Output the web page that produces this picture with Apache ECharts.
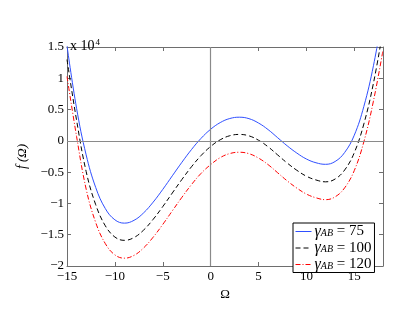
<!DOCTYPE html>
<html><head><meta charset="utf-8">
<script src="https://cdn.jsdelivr.net/npm/echarts@6/dist/echarts.min.js"></script>
<style>html,body{margin:0;padding:0;background:#fff}#c{width:415px;height:313px}</style>
</head><body><div id="c"></div>
<script>
// Omega sample points
const omega = [-15,-14,-13,-12,-11,-10,-9,-8,-7,-6,-5,-4,-3,-2,-1,0,1,2,3,4,5,6,7,8,9,10,11,12,13,14,15,16,17,18];
// gamma_AB = 75
const f75 = [15200,5200,-2240,-7460,-10820,-12620,-13150,-12700,-11510,-9790,-7760,-5580,-3420,-1390,400,1850,2920,3570,3780,3550,2850,1800,500,-800,-1950,-2900,-3500,-3750,-3300,-1850,900,5500,12000,20500];
// gamma_AB = 100
const f100 = [13000,3300,-4900,-10210,-13570,-15370,-15900,-15450,-14260,-12540,-10510,-8330,-6170,-4140,-2350,-900,170,820,1030,800,100,-950,-2250,-3550,-4700,-5650,-6250,-6550,-6100,-4650,-1900,2700,9200,17700];
// gamma_AB = 120
const f120 = [10300,700,-7700,-13060,-16420,-18220,-18750,-18300,-17110,-15390,-13360,-11180,-9020,-6990,-5200,-3800,-2680,-2030,-1820,-2050,-2750,-3800,-5100,-6400,-7550,-8500,-9100,-9400,-8950,-7500,-4750,-150,6350,14500];
const gammas = ['75','100','120'];
const colors = ['#2f4fff','#000000','#ff0000'];

const serif = 'Liberation Serif';
const pairs = arr => omega.map((x,i)=>[x,arr[i]]);
const fmtY = v => { const s = String(Math.round(v/1000)/10); return s.replace('-', '\u2212'); };
const fmtX = v => String(v).replace('-', '\u2212');
const frame = '#6e6e6e';

const tickCommon = {inside:true, length:4, lineStyle:{color:frame}};
const chart = echarts.init(document.getElementById('c'), null, {renderer:'canvas'});
chart.setOption({
  animation:false,
  backgroundColor:'#fff',
  title:{
    text:'{a|x 10}{b|4}', left:65, top:33,
    textStyle:{fontWeight:'normal', rich:{
      a:{fontFamily:serif, fontWeight:'normal', fontSize:14, color:'#000', verticalAlign:'bottom', lineHeight:15},
      b:{fontFamily:serif, fontWeight:'normal', fontSize:9, color:'#000', verticalAlign:'top', lineHeight:15, padding:[0,0,8,1]}
    }}
  },
  grid:{left:67, right:32, top:47, bottom:47, containLabel:false},
  legend:{
    orient:'vertical', left:293, top:223,
    backgroundColor:'#fff', borderColor:'#000', borderWidth:1, borderRadius:0,
    padding:[0,3,0,2], itemGap:0, itemWidth:16, itemHeight:13,
    itemStyle:{opacity:0},
    data: gammas.map((g,i)=>({name:'g'+g, lineStyle:{width:1, color:colors[i]}})),
    formatter: name => '{g|\u03b3}{s|AB}{n| = ' + name.slice(1) + '}',
    textStyle:{fontFamily:serif, fontSize:15, color:'#000', padding:[0,0,0,-3],
      rich:{
        g:{fontFamily:serif, fontStyle:'italic', fontSize:16, color:'#000', lineHeight:13, padding:[0,0,0,1]},
        s:{fontFamily:serif, fontStyle:'italic', fontSize:10, color:'#000', verticalAlign:'bottom', lineHeight:13, padding:[5,0,0,0]},
        n:{fontFamily:serif, fontSize:15, color:'#000', lineHeight:13}
      }}
  },
  xAxis:[{
    type:'value', min:-15, max:18, interval:5, position:'bottom',
    axisLine:{onZero:false, lineStyle:{color:frame}},
    axisTick:tickCommon,
    splitLine:{show:false},
    axisLabel:{color:'#000', fontFamily:serif, fontSize:13, margin:4, showMaxLabel:false, formatter:fmtX},
    name:'\u03a9', nameLocation:'middle', nameGap:21,
    nameTextStyle:{fontFamily:serif, fontSize:13, color:'#000'}
  },{
    type:'value', min:-15, max:18, interval:5, position:'top',
    axisLine:{onZero:false, lineStyle:{color:frame}},
    axisTick:tickCommon, axisLabel:{show:false}, splitLine:{show:false}
  }],
  yAxis:[{
    type:'value', min:-20000, max:15000, interval:5000, position:'left',
    axisLine:{show:true, onZero:false, lineStyle:{color:frame}},
    axisTick:tickCommon,
    splitLine:{show:false},
    axisLabel:{color:'#000', fontFamily:serif, fontSize:13, margin:3, formatter:fmtY},
    name:'{f|f}{p| (\u03a9)}', nameLocation:'middle', nameGap:31, nameRotate:90,
    nameTextStyle:{rich:{
      f:{fontFamily:serif, fontStyle:'italic', fontSize:14, color:'#000'},
      p:{fontFamily:serif, fontStyle:'italic', fontSize:13, color:'#000'}
    }}
  },{
    type:'value', min:-20000, max:15000, interval:5000, position:'right',
    axisLine:{show:true, onZero:false, lineStyle:{color:frame}},
    axisTick:tickCommon, axisLabel:{show:false}, splitLine:{show:false}
  }],
  series:[
    {name:'g75', type:'line', data:pairs(f75), smooth:0.4, symbol:'none', clip:true,
     lineStyle:{color:colors[0], width:1, type:'solid'}, itemStyle:{color:colors[0]},
     markLine:{silent:true, symbol:'none', label:{show:false}, animation:false,
       lineStyle:{color:'#8a8a8a', width:1.2, type:'solid'},
       data:[{xAxis:0},{yAxis:0}]}, z:3},
    {name:'g100', type:'line', data:pairs(f100), smooth:0.4, symbol:'none', clip:true,
     lineStyle:{color:colors[1], width:1, type:[5,3]}, itemStyle:{color:colors[1]}, z:3},
    {name:'g120', type:'line', data:pairs(f120), smooth:0.4, symbol:'none', clip:true,
     lineStyle:{color:colors[2], width:1, type:[5,2,1,2]}, itemStyle:{color:colors[2]}, z:3}
  ]
});
</script></body></html>
